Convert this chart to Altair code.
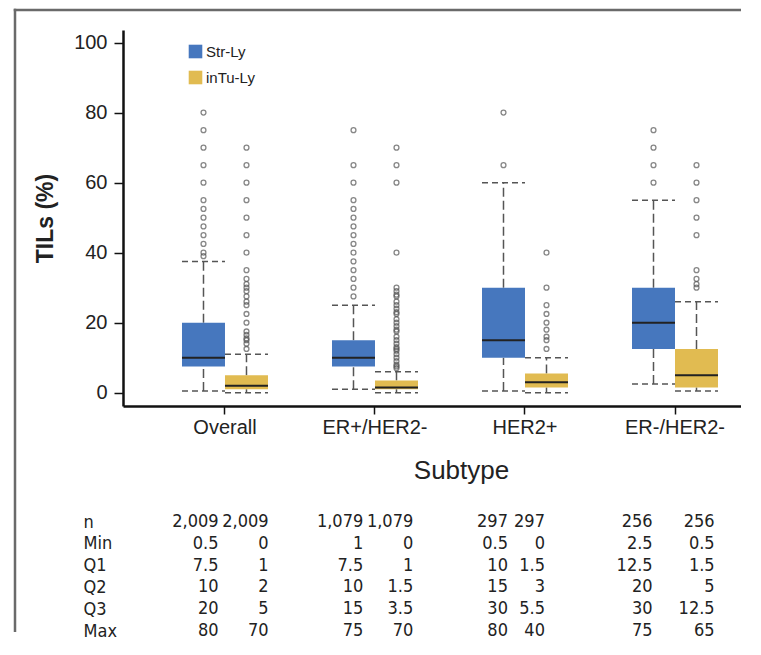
import json
import altair as alt
import pandas as pd

subtypes = ["Overall", "ER+/HER2-", "HER2+", "ER-/HER2-"]
types = ["Str-Ly", "inTu-Ly"]
colors = ["#4677BE", "#E1BB51"]
stats = ["n", "Min", "Q1", "Q2", "Q3", "Max"]

n_str = [2009, 1079, 297, 256]
n_intu = [2009, 1079, 297, 256]
min_str = [0.5, 1, 0.5, 2.5]
min_intu = [0, 0, 0, 0.5]
q1_str = [7.5, 7.5, 10, 12.5]
q1_intu = [1, 1, 1.5, 1.5]
q2_str = [10, 10, 15, 20]
q2_intu = [2, 1.5, 3, 5]
q3_str = [20, 15, 30, 30]
q3_intu = [5, 3.5, 5.5, 12.5]
max_str = [80, 75, 80, 75]
max_intu = [70, 70, 40, 65]
whisker_hi_str = [37.5, 25, 60, 55]
whisker_hi_intu = [11, 6, 10, 26]

outliers_str = [
    [80, 75, 70, 65, 60, 55, 52.5, 50, 47.5, 45, 42.5, 40, 39],
    [75, 65, 60, 55, 52.5, 50, 47.5, 45, 42.5, 40, 37.5, 35, 32.5, 30, 27.5],
    [80, 65],
    [75, 70, 65, 60],
]
outliers_intu = [
    [70, 65, 60, 55, 50, 45, 40, 35, 32.5, 31, 30, 29, 27.5, 26, 25, 22.5, 20,
     17.5, 16.5, 15.5, 15, 14, 12.5],
    [70, 65, 60, 40, 30, 29, 28, 27.5, 26, 25, 24, 23, 22.5, 21, 20, 19, 18,
     17.5, 16, 15, 14, 13, 12.5, 12, 11, 10, 9, 8, 7.5, 7],
    [40, 30, 25, 22.5, 20, 18, 16, 15, 12.5],
    [65, 60, 55, 50, 45, 35, 32.5, 31, 30],
]

# ---- tables built from the arrays ----
box_rows = []
for i, s in enumerate(subtypes):
    box_rows.append(dict(Subtype=s, Type=types[0], lo=min_str[i], q1=q1_str[i],
                         med=q2_str[i], q3=q3_str[i], hi=whisker_hi_str[i]))
    box_rows.append(dict(Subtype=s, Type=types[1], lo=min_intu[i], q1=q1_intu[i],
                         med=q2_intu[i], q3=q3_intu[i], hi=whisker_hi_intu[i]))
box_df = pd.DataFrame(box_rows)

out_rows = []
for i, s in enumerate(subtypes):
    for v in outliers_str[i]:
        out_rows.append(dict(Subtype=s, Type=types[0], v=v))
    for v in outliers_intu[i]:
        out_rows.append(dict(Subtype=s, Type=types[1], v=v))
out_df = pd.DataFrame(out_rows)

stat_str = [n_str, min_str, q1_str, q2_str, q3_str, max_str]
stat_intu = [n_intu, min_intu, q1_intu, q2_intu, q3_intu, max_intu]
tab_rows = []
for k, st in enumerate(stats):
    for i, s in enumerate(subtypes):
        tab_rows.append(dict(Stat=st, Subtype=s, Type=types[0], value=stat_str[k][i]))
        tab_rows.append(dict(Stat=st, Subtype=s, Type=types[1], value=stat_intu[k][i]))
tab_df = pd.DataFrame(tab_rows)

FONT = "Liberation Sans, Arial, sans-serif"
NARROW = "Liberation Sans Narrow, DejaVu Sans Condensed, Arial Narrow, sans-serif"
INK = "#222222"
W = 618
H = 376

xscale = alt.Scale(type="band", paddingInner=0.4267, paddingOuter=0.2733, align=0.7195)
xaxis = alt.Axis(title="Subtype", labelFont=FONT, labelFontSize=20, labelColor=INK,
                 titleFont=FONT, titleFontSize=26, titleFontWeight="normal",
                 titleColor=INK, titlePadding=20, titleX=338, titleAlign="center",
                 labelPadding=3, tickSize=8,
                 tickWidth=1.5, tickColor="#111", domainColor="#111",
                 domainWidth=2.5, labelAngle=0)


def X(axis=True):
    return alt.X("Subtype:N", sort=subtypes, scale=xscale,
                 axis=xaxis if axis else None)


XO = alt.XOffset("Type:N", sort=types, scale=alt.Scale(paddingInner=0, paddingOuter=0))

yscale = alt.Scale(domain=[-3.8, 103.6], nice=False, zero=False)
yaxis = alt.Axis(values=[0, 20, 40, 60, 80, 100], title="TILs (%)", labelFont=FONT,
                 labelFontSize=20, labelColor=INK, titleFont=FONT, titleFontSize=23,
                 titleFontWeight="bold", titleColor=INK, titlePadding=16,
                 labelPadding=7, tickSize=9, tickWidth=1.5, tickColor="#111",
                 domainColor="#111", domainWidth=2.5, grid=False)


def Y(field):
    return alt.Y(f"{field}:Q", scale=yscale, axis=yaxis, title="TILs (%)")


def Y2(field):
    return alt.Y2(f"{field}:Q")


base = alt.Chart(box_df)

whisk_up = base.mark_rule(color="#555", strokeWidth=1.5, strokeDash=[9, 4]).encode(
    x=X(), xOffset=XO, y=Y("q3"), y2=Y2("hi"))
whisk_dn = base.mark_rule(color="#555", strokeWidth=1.5, strokeDash=[9, 4]).encode(
    x=X(), xOffset=XO, y=Y("lo"), y2=Y2("q1"))
cap_hi = base.mark_bar(fillOpacity=0, stroke="#555", strokeWidth=1.5,
                       strokeDash=[6, 4]).encode(x=X(), xOffset=XO, y=Y("hi"), y2=Y2("hi"))
cap_lo = base.mark_bar(fillOpacity=0, stroke="#555", strokeWidth=1.5,
                       strokeDash=[6, 4]).encode(x=X(), xOffset=XO, y=Y("lo"), y2=Y2("lo"))
boxes = base.mark_bar(opacity=1).encode(
    x=X(), xOffset=XO, y=Y("q1"), y2=Y2("q3"),
    color=alt.Color("Type:N", sort=types, scale=alt.Scale(domain=types, range=colors),
                    legend=alt.Legend(orient="none", legendX=65, legendY=14, title=None,
                                      symbolType="square", symbolSize=185,
                                      symbolStrokeWidth=0, symbolOpacity=1,
                                      labelFont=FONT, labelFontSize=15,
                                      labelColor=INK, rowPadding=10, labelOffset=3,
                                      padding=0)))
median = base.mark_bar(fillOpacity=0, stroke="#222", strokeWidth=2).encode(
    x=X(), xOffset=XO, y=Y("med"), y2=Y2("med"))
points = alt.Chart(out_df).mark_point(shape="circle", filled=False, size=24,
                                      color="#555", strokeWidth=1.3).encode(
    x=X(), xOffset=XO, y=Y("v"))

# page frame (decoration), drawn as thin filled rects
frame_df = pd.DataFrame({"k": [0]})
frame_top = alt.Chart(frame_df).mark_rect(color="#6a6a6a").encode(
    x=alt.value(-109.25), x2=alt.value(W), y=alt.value(-21.25), y2=alt.value(-18.75))
frame_left = alt.Chart(frame_df).mark_rect(color="#6a6a6a").encode(
    x=alt.value(-109.25), x2=alt.value(-106.75), y=alt.value(-21.25), y2=alt.value(602))

top = alt.layer(frame_top, frame_left, whisk_up, whisk_dn, cap_hi, cap_lo, boxes,
                median, points).properties(width=W, height=H)

# table: its own column scale (columns are typeset a little narrower than the boxes)
txscale = alt.Scale(type="band", paddingInner=0, paddingOuter=0.1355, align=1)
TX = alt.X("Subtype:N", sort=subtypes, scale=txscale, axis=None)

tbase = alt.Chart(tab_df)
tyenc = alt.Y("Stat:N", sort=stats, scale=alt.Scale(type="point", padding=0),
              axis=alt.Axis(title=None, domain=False, ticks=False, tickSize=0,
                            labelAlign="left", labelPadding=40, labelFont=NARROW,
                            labelFontSize=18, labelColor=INK, grid=False))


def tcol(type_name, dx, subs):
    expr = (f"datum.Type == {json.dumps(type_name)} && "
            f"indexof({json.dumps(subs)}, datum.Subtype) >= 0")
    return tbase.transform_filter(expr).mark_text(
        align="right", baseline="middle", font=NARROW, fontSize=18,
        color=INK, dx=dx).encode(
        x=TX, y=tyenc, text=alt.Text("value:Q", format=","))


t_str = tcol(types[0], -16, subtypes)
t_intu_a = tcol(types[1], 34, subtypes[:2])
t_intu_b = tcol(types[1], 21, subtypes[2:3])
t_intu_c = tcol(types[1], 46, subtypes[3:])
table = alt.layer(t_str, t_intu_a, t_intu_b, t_intu_c).properties(width=W, height=109)

chart = alt.vconcat(top, table, spacing=116, bounds="flush").resolve_scale(
    x="independent"
).properties(
    padding={"left": 5, "top": 0, "right": 0, "bottom": 0}
).configure_view(stroke=None)

chart.save("out.html", embed_options={"renderer": "svg", "actions": False})
